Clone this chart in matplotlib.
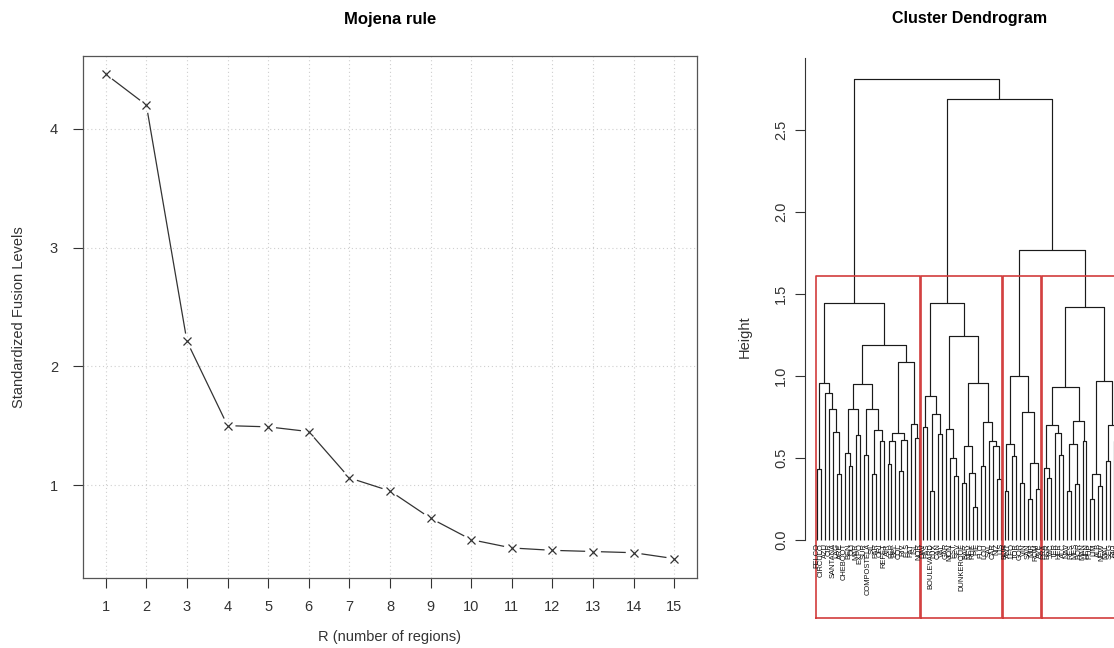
import numpy as np
import matplotlib.pyplot as plt

plt.rcParams['font.family'] = ['Liberation Sans', 'DejaVu Sans']

# Mojena stopping rule
n_regions = list(range(1, 16))
fusion_levels = [4.46, 4.20, 2.21, 1.50, 1.49, 1.45, 1.06, 0.95, 0.72, 0.54, 0.47, 0.45, 0.44, 0.43, 0.38]

# leaves in plotting order
leaf_labels = ['FELCO', 'CIRCULO', 'AZU', 'CIR', 'SANTANA', 'LAG', 'ARE', 'CHEBOOT', 'BEN', 'OLI',
               'MAR', 'EXPO', 'SUR', 'COMPOSTELA', 'SIL', 'PAR', 'ORI', 'REFET', 'AIR', 'FER',
               'BEL', 'COL', 'RIV', 'ELS', 'PAT', 'ISL', 'NOR',
               'DAV', 'PAS', 'BOULEVARD', 'LUX', 'CAN', 'VAL', 'GAR', 'MON', 'EST', 'SEV',
               'DUNKERQUE', 'BAR', 'NEV', 'RUE', 'PIE', 'FLO', 'LOU', 'SAL', 'CAR', 'NIZ', 'LIS',
               'BUR', 'ANT', 'LEO', 'TOR', 'GOR', 'VIN', 'SAN', 'MIR', 'ROM', 'AVE',
               'PRA', 'BER', 'VIC', 'TER', 'HER', 'ALC', 'NAV', 'RES', 'MES', 'BOR', 'MAN',
               'HEN', 'PUE', 'LIM', 'ALB', 'NEW', 'MAL', 'SEG', 'RIO', 'ARA', 'TEL']

# merges as (height, left, right); integers are leaf numbers
cluster_1 = (1.445,
             (0.955, (0.43, 1, 2), (0.895, 3, (0.80, 4, (0.66, 5, (0.40, 6, 7))))),
             (1.187,
              (0.95, (0.80, (0.53, 8, (0.45, 9, 10)), (0.64, 11, 12)),
                     (0.80, (0.52, 13, 14), (0.67, (0.40, 15, 16), (0.60, 17, 18)))),
              (1.087, (0.65, (0.60, (0.46, 19, 20), 21), (0.61, (0.42, 22, 23), 24)),
                      (0.705, 25, (0.62, 26, 27)))))
cluster_2 = (1.445,
             (0.88, (0.69, 28, 29), (0.77, (0.30, 30, 31), (0.645, 32, 33))),
             (1.244,
              (0.675, 34, (0.50, 35, (0.39, 36, 37))),
              (0.955, (0.57, (0.35, 38, 39), (0.41, 40, (0.20, 41, 42))),
                      (0.717, (0.45, 43, 44), (0.60, 45, (0.57, 46, (0.37, 47, 48)))))))
cluster_3 = (1.0,
             (0.585, (0.30, 49, 50), (0.51, 51, 52)),
             (0.78, (0.35, 53, 54), (0.47, (0.25, 55, 56), (0.31, 57, 58))))
cluster_4 = (1.42,
             (0.93, (0.70, (0.44, 59, (0.375, 60, 61)), (0.65, 62, (0.52, 63, 64))),
                    (0.727, (0.585, (0.30, 65, 66), (0.34, 67, 68)), (0.60, 69, 70))),
             (0.97, (0.40, (0.25, 71, 72), (0.33, 73, 74)),
                    (0.70, (0.48, 75, 76), (0.60, 77, (0.45, 78, 79)))))
clusters = [cluster_1, cluster_2, cluster_3, cluster_4]
tree = (2.81, cluster_1, (2.69, cluster_2, (1.77, cluster_3, cluster_4)))


def leaves(node):
    if isinstance(node, int):
        return [node]
    return leaves(node[1]) + leaves(node[2])


def draw_node(ax, node):
    if isinstance(node, int):
        return float(node), 0.0
    h, left, right = node
    xl, hl = draw_node(ax, left)
    xr, hr = draw_node(ax, right)
    ax.plot([xl, xl, xr, xr], [hl, h, h, hr], color='#1a1a1a', lw=0.85, solid_capstyle='butt')
    return (xl + xr) / 2, h


fig = plt.figure(figsize=(11.14, 6.48), dpi=100)

# ---- left: Mojena rule
ax1 = fig.add_axes([83 / 1114, 70 / 648, 614 / 1114, 522 / 648])
ax1.set_xlim(0.44, 15.56)
ax1.set_ylim(0.217, 4.613)
for x in n_regions:
    ax1.axvline(x, color='#cfcfcf', lw=0.8, ls=(0, (1, 2.5)), zorder=0)
for y in [1, 2, 3, 4]:
    ax1.axhline(y, color='#cfcfcf', lw=0.8, ls=(0, (1, 2.5)), zorder=0)

# type="b": segments stop short of the points
pts = ax1.transData.transform(np.column_stack([n_regions, fusion_levels]))
gap = 8.5
for p, q in zip(pts[:-1], pts[1:]):
    d = q - p
    L = np.hypot(*d)
    if L <= 2 * gap:
        continue
    u = d / L
    a, b = ax1.transData.inverted().transform([p + u * gap, q - u * gap])
    ax1.plot([a[0], b[0]], [a[1], b[1]], color='#333333', lw=0.9)
ax1.plot(n_regions, fusion_levels, ls='none', marker='x', ms=6, mew=0.9, color='#333333')

ax1.set_xticks(n_regions)
ax1.set_yticks([1, 2, 3, 4])
ax1.tick_params(length=7, width=0.8, colors='#333333', labelsize=10.5, pad=9)
ax1.tick_params(axis='y', pad=11)
for s in ax1.spines.values():
    s.set_color('#555555')
    s.set_linewidth(0.9)
ax1.set_title('Mojena rule', fontsize=12, fontweight='bold', pad=23)
ax1.set_xlabel('R (number of regions)', fontsize=10.5, color='#333333', labelpad=11)
ax1.set_ylabel('Standardized Fusion Levels', fontsize=10.5, color='#333333', labelpad=17)

# ---- right: cluster dendrogram
ax2 = fig.add_axes([805 / 1114, 30 / 648, 330 / 1114, 562 / 648])
ax2.set_xlim(-2.154, 82.46)
ax2.set_ylim(-0.476, 2.95)
draw_node(ax2, tree)
for i, lab in enumerate(leaf_labels, start=1):
    ax2.text(i, -0.02, lab, rotation=90, ha='center', va='top', fontsize=5.4, color='#111111')

# rectangles for k = 4 groups
rect_top = (1.77 + 1.445) / 2
for c in clusters:
    lv = leaves(c)
    x0, x1 = min(lv) - 0.34, max(lv) + 0.33
    ax2.plot([x0, x0, x1, x1, x0], [-0.476, rect_top, rect_top, -0.476, -0.476],
             color='#d23c3c', lw=1.2, clip_on=False)

ax2.spines[['top', 'right', 'bottom']].set_visible(False)
ax2.spines['left'].set_bounds(0, 2.94)
ax2.spines['left'].set_color('#333333')
ax2.spines['left'].set_linewidth(0.8)
ax2.set_xticks([])
ax2.set_yticks([0, 0.5, 1.0, 1.5, 2.0, 2.5])
ax2.set_yticklabels(['0.0', '0.5', '1.0', '1.5', '2.0', '2.5'], rotation=90, va='center')
ax2.tick_params(axis='y', length=7, width=0.8, colors='#333333', labelsize=10.5, pad=5)
ax2.set_ylabel('Height', fontsize=10.5, color='#333333')
ax2.yaxis.set_label_coords(-0.16, 0.5)
fig.text(970 / 1114, 1 - 18 / 648, 'Cluster Dendrogram', ha='center', va='center',
         fontsize=11.5, fontweight='bold')

fig.savefig('out.png', dpi=100)
